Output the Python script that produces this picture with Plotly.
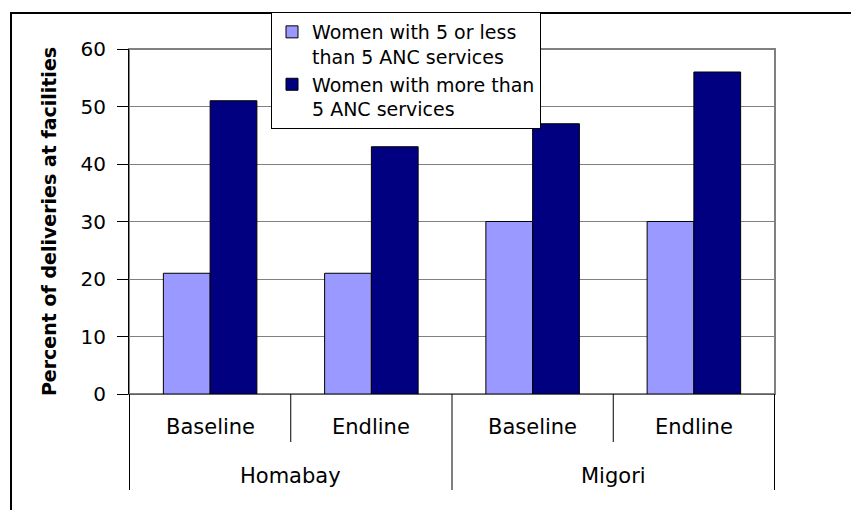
import plotly.graph_objects as go

regions = ["Homabay", "Homabay", "Migori", "Migori"]
periods = ["Baseline", "Endline", "Baseline", "Endline"]
le5_anc = [21, 21, 30, 30]
gt5_anc = [51, 43, 47, 56]
series_names = ["Women with 5 or less<br>than 5 ANC services",
                "Women with more than<br>5 ANC services"]
y_title = "Percent of deliveries at facilities"

categories = [r + " " + p for r, p in zip(regions, periods)]

# page body has an 8px margin: figure is drawn from (8, 8)
OFF = 8
W, H = 859 - OFF, 510 - OFF
ML, MT = 129 - OFF, 49 - OFF
PR, PB = 775 - OFF, 394 - OFF  # plot area right / bottom, figure coords
MR, MB = W - PR, H - PB
PW, PH = W - ML - MR, H - MT - MB

def px_x(px):
    return (px - OFF - ML) / PW

def px_y(py):
    return (PB - (py - OFF)) / PH

FONT = "DejaVu Sans, Verdana, sans-serif"
FS = 20

fig = go.Figure()
fig.add_trace(go.Bar(x=categories, y=le5_anc, name=series_names[0],
                     marker=dict(color="#9999FF", line=dict(color="black", width=1))))
fig.add_trace(go.Bar(x=categories, y=gt5_anc, name=series_names[1],
                     marker=dict(color="#000080", line=dict(color="black", width=1))))

fig.update_layout(
    width=W, height=H,
    margin=dict(l=ML, r=MR, t=MT, b=MB, pad=0, autoexpand=False),
    paper_bgcolor="white", plot_bgcolor="white",
    font=dict(family=FONT, size=FS, color="black"),
    barmode="group", bargap=0.42, bargroupgap=0,
    showlegend=True,
    legend=dict(x=px_x(271), y=px_y(12), xanchor="left", yanchor="top",
                bgcolor="white", bordercolor="black", borderwidth=1,
                font=dict(family=FONT, size=19), valign="top", tracegroupgap=0,
                itemwidth=30),
)

fig.update_yaxes(range=[0, 60], dtick=10, showgrid=True, gridcolor="#808080", gridwidth=1,
                 showline=True, linecolor="black", linewidth=1,
                 ticks="outside", ticklen=11, tickcolor="black",
                 ticklabelstandoff=7, zeroline=False, automargin=False,
                 tickfont=dict(family=FONT, size=FS),
                 title=dict(text="<b>" + y_title + "</b>",
                            font=dict(family=FONT, size=19), standoff=18))
fig.update_xaxes(type="category", showline=True, linecolor="#606060", linewidth=1,
                 showticklabels=False, ticks="", automargin=False)

# category labels (two levels)
for c, p in zip(categories, periods):
    fig.add_annotation(x=c, xref="x", y=px_y(427), yref="paper", text=p,
                       showarrow=False, font=dict(family=FONT, size=21),
                       xanchor="center", yanchor="middle")
group_names = []
group_pos = []
for i, r in enumerate(regions):
    if r not in group_names:
        group_names.append(r)
        group_pos.append([i, i])
    else:
        group_pos[group_names.index(r)][1] = i
for g, (a, b) in zip(group_names, group_pos):
    fig.add_annotation(x=(a + b) / 2, xref="x", y=px_y(476), yref="paper", text=g,
                       showarrow=False, font=dict(family=FONT, size=21),
                       xanchor="center", yanchor="middle")

# dividers at category boundaries
outer_bounds = set()
for a, b in group_pos:
    outer_bounds.add(a - 0.5)
    outer_bounds.add(b + 0.5)
for k in range(len(categories) + 1):
    bnd = k - 0.5
    bottom = px_y(490) if bnd in outer_bounds else px_y(442)
    fig.add_shape(type="line", xref="x", yref="paper", x0=bnd, x1=bnd, y0=0, y1=bottom,
                  line=dict(color="black", width=1))

# plot-area border (gray)
fig.add_shape(type="rect", xref="paper", yref="paper", x0=0, x1=1, y0=0, y1=1,
              line=dict(color="#808080", width=2), layer="below")
# outer chart frame
fig.add_shape(type="rect", xref="paper", yref="paper", x0=px_x(11), x1=px_x(900),
              y0=px_y(560), y1=px_y(13), line=dict(color="black", width=2), layer="below")

fig.write_html("out.html")
